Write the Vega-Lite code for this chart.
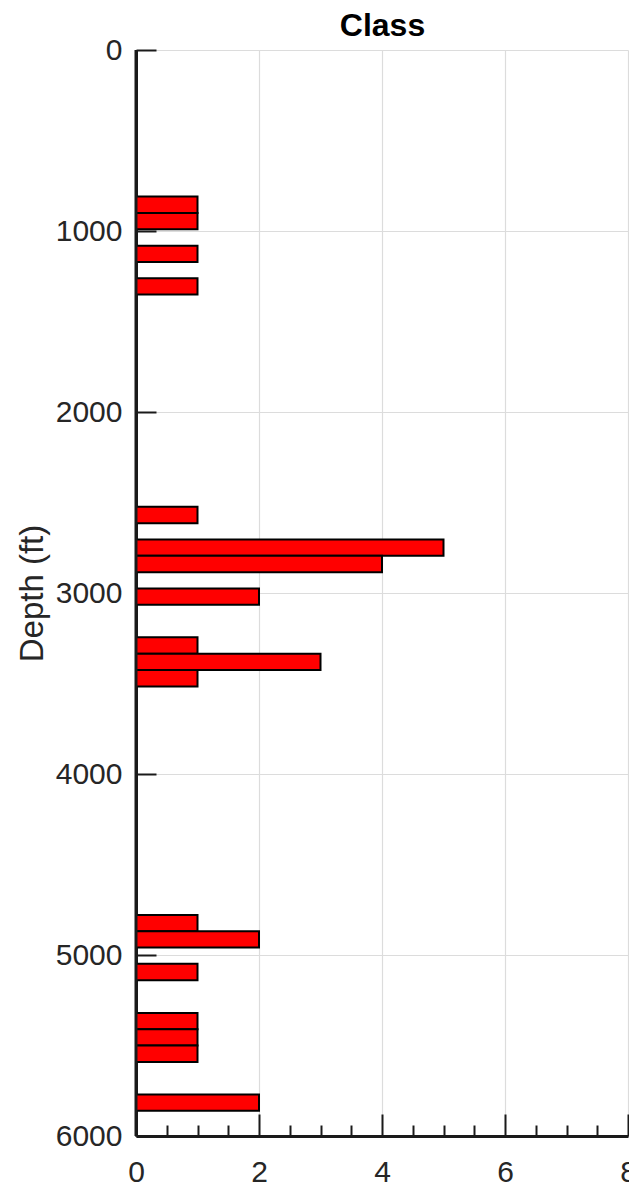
{
  "$schema": "https://vega.github.io/schema/vega-lite/v6.json",
  "autosize": {"type": "none"},
  "padding": {"left": 136, "top": 50, "right": 1, "bottom": 46},
  "width": 492,
  "height": 1086,
  "background": "white",
  "resolve": {"axis": {"x": "independent"}},
  "layer": [
    {
      "data": {"values": [
        {"top": 810, "bottom": 900, "count": 1},
        {"top": 900, "bottom": 990, "count": 1},
        {"top": 1081, "bottom": 1171, "count": 1},
        {"top": 1261, "bottom": 1351, "count": 1},
        {"top": 2524, "bottom": 2614, "count": 1},
        {"top": 2704, "bottom": 2794, "count": 5},
        {"top": 2794, "bottom": 2885, "count": 4},
        {"top": 2975, "bottom": 3065, "count": 2},
        {"top": 3245, "bottom": 3336, "count": 1},
        {"top": 3336, "bottom": 3426, "count": 3},
        {"top": 3426, "bottom": 3516, "count": 1},
        {"top": 4779, "bottom": 4869, "count": 1},
        {"top": 4869, "bottom": 4959, "count": 2},
        {"top": 5049, "bottom": 5140, "count": 1},
        {"top": 5320, "bottom": 5410, "count": 1},
        {"top": 5410, "bottom": 5500, "count": 1},
        {"top": 5500, "bottom": 5591, "count": 1},
        {"top": 5771, "bottom": 5861, "count": 2}
      ]},
      "mark": {"type": "rect", "fill": "#ff0000", "stroke": "#000000", "strokeWidth": 2},
      "encoding": {
        "x": {
          "field": "count", "type": "quantitative",
          "scale": {"domain": [0, 8], "nice": false, "zero": true},
          "axis": {
            "title": null,
            "orient": "bottom",
            "values": [0, 0.5, 1, 1.5, 2, 2.5, 3, 3.5, 4, 4.5, 5, 5.5, 6, 6.5, 7, 7.5, 8],
            "labelExpr": "datum.value % 2 === 0 ? '' + datum.value : ''",
            "tickSize": {"condition": {"test": "datum.value % 2 === 0", "value": -22}, "value": -11},
            "tickWidth": 2,
            "tickColor": "#1a1a1a",
            "labelPadding": 43,
            "labelFont": "Liberation Sans",
            "labelFontSize": 30,
            "labelColor": "#262626",
            "labelFlush": false,
            "labelOverlap": false,
            "labelAngle": 0,
            "domainColor": "#1a1a1a",
            "domainWidth": 3,
            "grid": true,
            "gridColor": "#dcdcdc",
            "gridWidth": 1.2,
            "gridOpacity": {"condition": {"test": "datum.value % 2 === 0 && datum.value > 0", "value": 1}, "value": 0}
          }
        },
        "x2": {"datum": 0},
        "y": {
          "field": "top", "type": "quantitative",
          "title": "Depth (ft)",
          "scale": {"domain": [0, 6000], "nice": false, "reverse": true},
          "axis": {
            "values": [0, 1000, 2000, 3000, 4000, 5000, 6000],
            "format": "d",
            "tickSize": -20,
            "tickWidth": 2,
            "tickColor": "#1a1a1a",
            "labelPadding": 34,
            "labelFont": "Liberation Sans",
            "labelFontSize": 30,
            "labelColor": "#262626",
            "labelFlush": false,
            "labelOverlap": false,
            "domainColor": "#1a1a1a",
            "domainWidth": 3,
            "grid": true,
            "gridColor": "#dcdcdc",
            "gridWidth": 1.2,
            "gridOpacity": {"condition": {"test": "datum.value < 6000", "value": 1}, "value": 0},
            "titleFont": "Liberation Sans",
            "titleFontSize": 33,
            "titleFontWeight": "normal",
            "titleColor": "#262626",
            "titlePadding": 6
          }
        },
        "y2": {"field": "bottom"}
      }
    },
    {
      "data": {"values": [{}]},
      "mark": {"type": "rule", "color": "#1a1a1a", "strokeWidth": 3},
      "encoding": {
        "x": {
          "datum": 0, "type": "quantitative",
          "axis": {
            "orient": "top",
            "title": "Class",
            "ticks": false,
            "labels": false,
            "domain": false,
            "grid": false,
            "minExtent": 0,
            "maxExtent": 0,
            "titleFont": "Liberation Sans",
            "titleFontSize": 32,
            "titleFontWeight": "bold",
            "titleColor": "#000000",
            "titleBaseline": "alphabetic",
            "titlePadding": 15
          }
        }
      }
    }
  ],
  "config": {"view": {"stroke": null}}
}
